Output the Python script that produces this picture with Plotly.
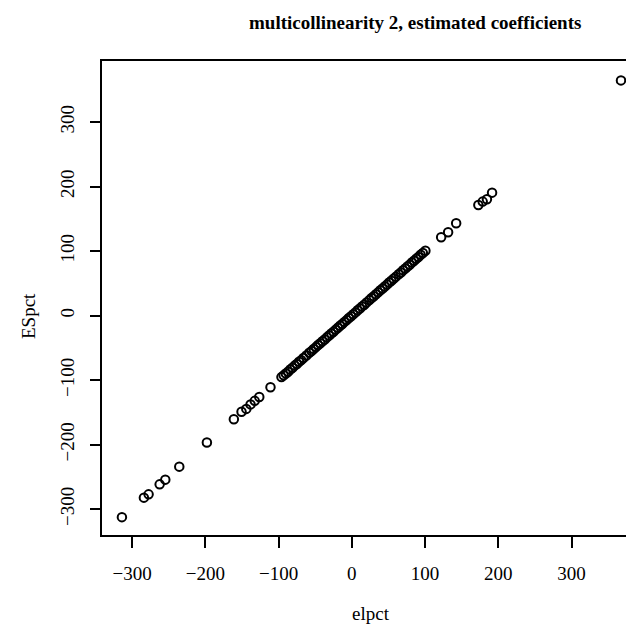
import plotly.graph_objects as go

elpct = [-313.8, -283.8, -277.4, -262.3, -254.6, -235.5, -197.8, -161.0, -150.5, -144.0,
         -138.2, -132.5, -126.3, -111.0, -96, -93, -90, -87, -84, -81, -78, -75, -72, -69,
         -66, -62, -58, -55, -52, -49, -46, -43, -40, -37, -34, -31, -28, -25, -22, -19,
         -16, -13, -10, -7, -4, -1, 2, 5, 8, 11, 14, 17, 20, 24, 27, 30, 33, 36, 39, 42,
         45, 48, 51, 54, 57, 60, 64, 67, 70, 73, 76, 79, 82, 85, 88, 91, 94, 97, 100.5,
         122.0, 131.5, 142.5, 172.8, 178.7, 184.5, 191.5, 367.5]
ESpct = [-312.3, -282.1, -277.0, -261.5, -254.2, -234.0, -196.7, -160.6, -149.0, -144.5,
         -137.5, -132.0, -126.0, -110.9, -95.2, -92.5, -89.6, -86.8, -83.5, -80.7, -77.4, -74.8, -71.5, -68.9,
         -65.6, -61.8, -57.5, -54.9, -51.6, -48.7, -45.5, -42.8, -39.6, -36.9, -33.6, -30.8, -27.5, -24.9, -21.6, -18.8,
         -15.5, -12.9, -9.6, -6.8, -3.5, -0.9, 2.3, 5.1, 8.4, 11.2, 14.4, 17.1, 20.3, 24.2, 27.4, 30.1, 33.3, 36.2, 39.4, 42.1,
         45.3, 48.2, 51.4, 54.1, 57.3, 60.2, 64.3, 67.1, 70.4, 73.2, 76.3, 79.1, 82.4, 85.2, 88.3, 91.1, 94.4, 97.2, 100.8,
         121.6, 129.5, 143.3, 171.7, 176.9, 180.6, 190.8, 364.8]

x_ticks = [-300, -200, -100, 0, 100, 200, 300]
y_ticks = [-300, -200, -100, 0, 100, 200, 300]

FONT = "Liberation Serif"
OFF = 8                      # default page body margin
FW, FH = 634 - OFF, 628 - OFF
L, T, W, H = 102 - OFF, 61 - OFF, 532, 474


def px(xpage):
    return (xpage - OFF - L) / W


def py(ypage):
    return (T + H - (ypage - OFF)) / H


fig = go.Figure()
fig.add_trace(go.Scatter(
    x=elpct, y=ESpct, mode="markers",
    marker=dict(symbol="circle-open", size=8.5, color="black", line=dict(width=2, color="black")),
    hoverinfo="x+y", showlegend=False,
))

fig.update_layout(
    width=FW, height=FH,
    margin=dict(l=L, r=FW - L - W, t=T, b=FH - T - H, pad=0),
    paper_bgcolor="white", plot_bgcolor="white",
    font=dict(family=FONT, size=19, color="black"),
    xaxis=dict(range=[-341, -341 + W / 0.7325], tickvals=x_ticks, ticks="outside", ticklen=11,
               tickwidth=1.5, tickcolor="black", showgrid=False, zeroline=False,
               showline=True, linecolor="black", linewidth=2, mirror=True,
               ticklabelstandoff=9, tickfont=dict(color="black")),
    yaxis=dict(range=[-340, -340 + H / 0.645], tickvals=y_ticks, ticks="outside", ticklen=10,
               tickwidth=1.5, tickcolor="black", showgrid=False, zeroline=False,
               showline=True, linecolor="black", linewidth=2, mirror=False,
               tickangle=-90, ticklabelstandoff=8, tickfont=dict(color="black")),
    annotations=[
        dict(text="<b>multicollinearity 2, estimated coefficients</b>", xref="paper", yref="paper",
             x=px(415), y=py(22), xanchor="center", yanchor="middle",
             showarrow=False, font=dict(family=FONT, size=19, color="black")),
        dict(text="elpct", xref="paper", yref="paper", x=px(371), y=py(613),
             xanchor="center", yanchor="middle", showarrow=False,
             font=dict(family=FONT, size=19, color="black")),
        dict(text="ESpct", xref="paper", yref="paper", x=px(28), y=py(316),
             xanchor="center", yanchor="middle", textangle=-90, showarrow=False,
             font=dict(family=FONT, size=19, color="black")),
    ],
)

fig.write_html("out.html")
